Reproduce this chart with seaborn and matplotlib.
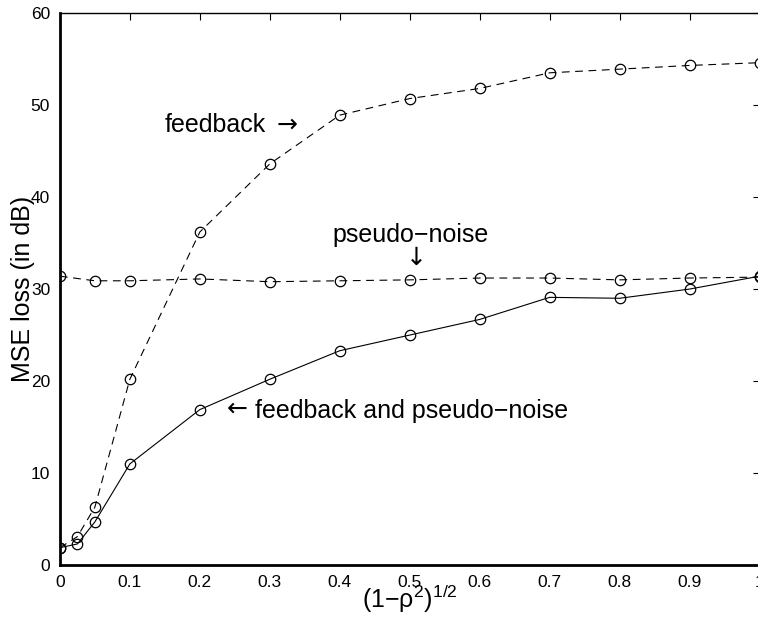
import matplotlib
matplotlib.use("Agg")
import matplotlib.pyplot as plt
import seaborn as sns
import pandas as pd

sns.set_theme(style="white")
plt.rcParams['font.family'] = ['Liberation Sans', 'DejaVu Sans']
plt.rcParams['mathtext.default'] = 'regular'
plt.rcParams['text.color'] = 'black'
plt.rcParams['axes.labelcolor'] = 'black'

x_full = [0, 0.025, 0.05, 0.1, 0.2, 0.3, 0.4, 0.5, 0.6, 0.7, 0.8, 0.9, 1.0]
feedback = [1.9, 3.1, 6.3, 20.2, 36.2, 43.6, 48.9, 50.7, 51.8, 53.5, 53.9, 54.3, 54.6]
both = [1.9, 2.3, 4.7, 11.0, 16.9, 20.2, 23.3, 25.0, 26.7, 29.1, 29.0, 30.0, 31.4]
x_pn = [0, 0.05, 0.1, 0.2, 0.3, 0.4, 0.5, 0.6, 0.7, 0.8, 0.9, 1.0]
pseudo_noise = [31.4, 30.9, 30.9, 31.1, 30.8, 30.9, 31.0, 31.2, 31.2, 31.0, 31.2, 31.3]

x_ticks = [0, 0.1, 0.2, 0.3, 0.4, 0.5, 0.6, 0.7, 0.8, 0.9, 1]
x_ticklabels = ['0', '0.1', '0.2', '0.3', '0.4', '0.5', '0.6', '0.7', '0.8', '0.9', '1']
y_ticks = [0, 10, 20, 30, 40, 50, 60]

df_fb = pd.DataFrame({'x': x_full, 'y': feedback})
df_both = pd.DataFrame({'x': x_full, 'y': both})
df_pn = pd.DataFrame({'x': x_pn, 'y': pseudo_noise})

fig = plt.figure(figsize=(7.58, 6.19), dpi=100)
ax = fig.add_axes([0.079, 0.087, 0.923, 0.892])

mk = dict(marker='o', markersize=7.5, markerfacecolor='none', markeredgecolor='black',
          markeredgewidth=0.9, color='black', linewidth=0.8)
sns.lineplot(data=df_fb, x='x', y='y', ax=ax, linestyle=(0, (7, 5)), **mk)
sns.lineplot(data=df_pn, x='x', y='y', ax=ax, linestyle=(0, (7, 5)), **mk)
sns.lineplot(data=df_both, x='x', y='y', ax=ax, linestyle='-', **mk)

ax.set_xlim(0, 1)
ax.set_ylim(0, 60)
ax.set_xticks(x_ticks)
ax.set_xticklabels(x_ticklabels)
ax.set_yticks(y_ticks)
ax.tick_params(direction='in', length=5, width=0.8, color='black', labelsize=12.5,
               top=True, right=True, labelcolor='black', pad=7)
for side in ['left', 'bottom']:
    ax.spines[side].set_linewidth(2)
    ax.spines[side].set_color('black')
for side in ['top', 'right']:
    ax.spines[side].set_linewidth(1)
    ax.spines[side].set_color('black')

ax.set_xlabel('(1\u2212\u03c1$^2$)$^{1/2}$', fontsize=18, labelpad=-5)
ax.set_ylabel('MSE loss (in dB)', fontsize=18, labelpad=-3)

arrow_font = ['DejaVu Sans']
ax.text(0.15, 47.8, 'feedback', fontsize=18, va='center', ha='left')
ax.text(0.31, 47.9, '\u2192', fontsize=18, va='center', ha='left', family=arrow_font)
ax.text(0.501, 35.9, 'pseudo\u2212noise', fontsize=18, va='center', ha='center')
ax.text(0.51, 33.4, '\u2193', fontsize=18, va='center', ha='center', family=arrow_font)
ax.text(0.238, 17.0, '\u2190', fontsize=18, va='center', ha='left', family=arrow_font)
ax.text(0.279, 16.8, 'feedback and pseudo\u2212noise', fontsize=18, va='center', ha='left')

fig.savefig('out.png', dpi=100)
